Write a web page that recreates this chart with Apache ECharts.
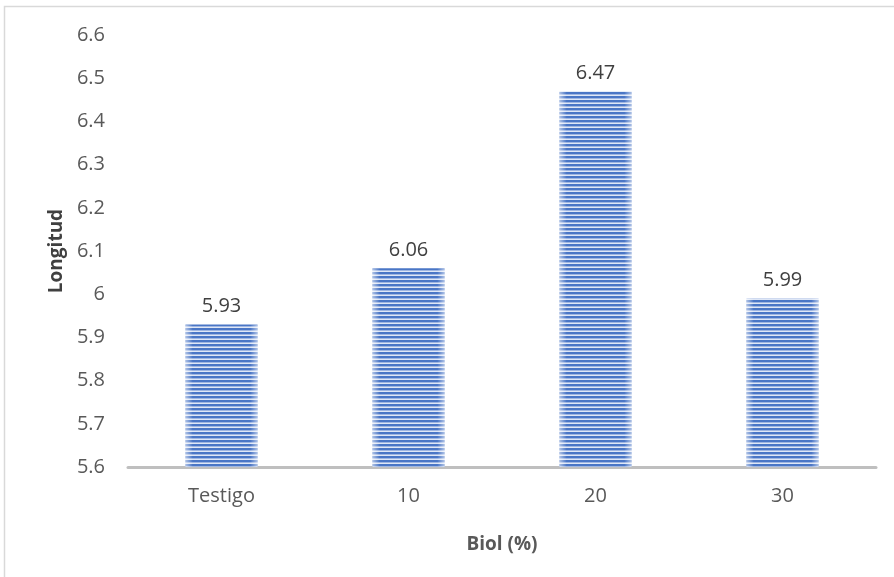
<!DOCTYPE html>
<html>
<head>
<meta charset="utf-8">
<script src="https://cdn.jsdelivr.net/npm/echarts@6/dist/echarts.min.js"></script>
<style>
  html, body { margin: 0; padding: 0; background: #fff; }
  #chart { width: 894px; height: 577px; }
</style>
</head>
<body>
<div id="chart"></div>
<script>
// Stem length by biol dose
const categories = ['Testigo', '10', '20', '30'];
const longitud = [5.93, 6.06, 6.47, 5.99];
const yMin = 5.6, yMax = 6.6, yStep = 0.1;

// Horizontal narrow-stripe fill
function stripePattern() {
  const c = document.createElement('canvas');
  c.width = 4; c.height = 4;
  const ctx = c.getContext('2d');
  ctx.fillStyle = '#dfe7f6';
  ctx.fillRect(0, 0, 4, 4);
  ctx.fillStyle = '#4a76c6';
  ctx.fillRect(0, 0, 4, 2);
  ctx.fillStyle = '#9fb6e2';
  ctx.fillRect(0, 2, 4, 1);
  return c;
}

const font = '"Open Sans", sans-serif';
const chart = echarts.init(document.getElementById('chart'));
chart.setOption({
  animation: false,
  graphic: [{
    type: 'rect',
    shape: { x: 4.5, y: 6.5, width: 900, height: 600 },
    style: { fill: 'none', stroke: '#d9d9d9', lineWidth: 1.5 },
    silent: true
  }],
  grid: { left: 128, right: 18, top: 35, bottom: 110 },
  xAxis: {
    type: 'category',
    data: categories,
    name: 'Biol (%)',
    nameLocation: 'middle',
    nameGap: 68,
    nameTextStyle: { fontFamily: font, fontSize: 19, fontWeight: 'bold', color: '#595959' },
    axisLine: { lineStyle: { color: '#bfbfbf', width: 3 } },
    axisTick: { show: false },
    axisLabel: { fontFamily: font, fontSize: 20, color: '#595959', margin: 19 }
  },
  yAxis: {
    type: 'value',
    min: yMin, max: yMax, interval: yStep,
    name: 'Longitud',
    nameLocation: 'middle',
    nameGap: 62,
    nameRotate: 90,
    nameTextStyle: { fontFamily: font, fontSize: 19, fontWeight: 'bold', color: '#404040' },
    axisLine: { show: false },
    axisTick: { show: false },
    splitLine: { show: false },
    axisLabel: {
      fontFamily: font, fontSize: 20, color: '#595959', margin: 23,
      formatter: v => String(Math.round(v * 10) / 10)
    }
  },
  series: [{
    type: 'bar',
    data: longitud,
    barWidth: 72,
    itemStyle: { color: { image: stripePattern(), repeat: 'repeat' } },
    label: {
      show: true, position: 'top', distance: 8,
      fontFamily: font, fontSize: 20, color: '#404040'
    }
  }, {
    // soft white sheen toward the bar edges
    type: 'bar',
    data: longitud,
    barWidth: 72,
    barGap: '-100%',
    silent: true,
    itemStyle: {
      color: {
        type: 'linear', x: 0, y: 0, x2: 1, y2: 0,
        colorStops: [
          { offset: 0, color: 'rgba(255,255,255,0.55)' },
          { offset: 0.1, color: 'rgba(255,255,255,0)' },
          { offset: 0.9, color: 'rgba(255,255,255,0)' },
          { offset: 1, color: 'rgba(255,255,255,0.55)' }
        ]
      }
    }
  }]
});
</script>
</body>
</html>
